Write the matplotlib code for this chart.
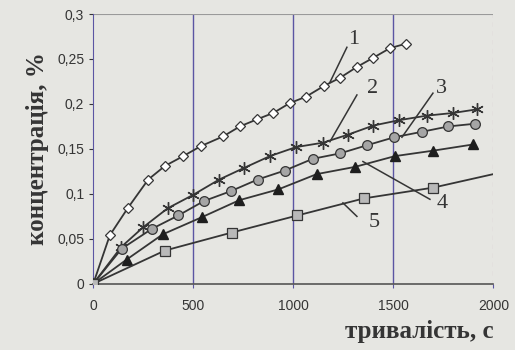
import matplotlib.pyplot as plt

# dissolution curves: time, s  /  concentration, %
t1 = [0, 83, 172, 275, 358, 450, 537, 650, 733, 820, 900, 983, 1063, 1153, 1233, 1317, 1397, 1483, 1563]
c1 = [0, 0.054, 0.084, 0.116, 0.131, 0.142, 0.153, 0.164, 0.175, 0.183, 0.190, 0.201, 0.208, 0.220, 0.229, 0.241, 0.251, 0.262, 0.267]

t2 = [0, 140, 250, 372, 500, 630, 755, 883, 1013, 1150, 1275, 1400, 1530, 1667, 1800, 1917]
c2 = [0, 0.041, 0.063, 0.084, 0.099, 0.116, 0.129, 0.142, 0.152, 0.157, 0.166, 0.176, 0.182, 0.187, 0.190, 0.194]

t3 = [0, 142, 292, 425, 553, 687, 822, 958, 1097, 1233, 1367, 1505, 1642, 1775, 1908]
c3 = [0, 0.039, 0.061, 0.076, 0.092, 0.103, 0.116, 0.126, 0.139, 0.145, 0.154, 0.163, 0.169, 0.175, 0.178]

t4 = [0, 167, 347, 542, 730, 925, 1117, 1308, 1508, 1697, 1900]
c4 = [0, 0.027, 0.055, 0.074, 0.093, 0.105, 0.122, 0.130, 0.142, 0.148, 0.155]

t5 = [0, 358, 692, 1020, 1353, 1700]
c5 = [0, 0.037, 0.057, 0.076, 0.095, 0.107]
# trend line of curve 5 runs on to the edge of the plot
t5_line = t5 + [2000]
c5_line = c5 + [0.122]

curve_labels = ['1', '2', '3', '4', '5']
label_xy = [(1300, 0.272), (1395, 0.217), (1740, 0.217), (1745, 0.089), (1405, 0.068)]
leader_from = [(1268, 0.263), (1318, 0.210), (1698, 0.212), (1683, 0.094), (1318, 0.075)]
leader_to = [(1183, 0.224), (1183, 0.158), (1543, 0.163), (1348, 0.136), (1248, 0.090)]

xticks = [0, 500, 1000, 1500, 2000]
yticks = [0, 0.05, 0.1, 0.15, 0.2, 0.25, 0.3]
ytick_labels = ['0', '0,05', '0,1', '0,15', '0,2', '0,25', '0,3']

paper = '#e6e6e2'
ink = '#353535'
grid_col = '#5b55a3'

fig = plt.figure(figsize=(5.15, 3.5), dpi=100, facecolor=paper)
ax = fig.add_axes([0.181, 0.189, 0.777, 0.771], facecolor=paper)

for x in [500, 1000, 1500]:
    ax.axvline(x, color=grid_col, lw=1.0, zorder=1)
ax.axvline(2000, color='#b08aa8', lw=0.8, ls=(0, (4, 4)), zorder=1)
ax.axhline(0.3, color='#9a9a9a', lw=0.8, zorder=1)

line_kw = dict(color=ink, lw=1.3, zorder=3)
ax.plot(t1, c1, marker='D', ms=5.5, mfc='white', mec=ink, mew=0.9, **line_kw)
ax.plot(t2, c2, marker=(6, 2, 0), ms=9, mec=ink, mew=1.0, **line_kw)
ax.plot(t3, c3, marker='o', ms=7, mfc='#a5a5a5', mec=ink, mew=0.9, **line_kw)
ax.plot(t4, c4, marker='^', ms=7, mfc='#1e1e1e', mec='#1e1e1e', **line_kw)
ax.plot(t5_line, c5_line, **line_kw)
ax.plot(t5, c5, ls='none', marker='s', ms=7, mfc='#b9b9b9', mec=ink, mew=0.9, zorder=4)

for lab, (tx, ty), p0, p1 in zip(curve_labels, label_xy, leader_from, leader_to):
    ax.plot([p0[0], p1[0]], [p0[1], p1[1]], color=ink, lw=1.1, zorder=5)
    ax.text(tx, ty, lab, fontsize=16, family='Liberation Serif', color=ink,
            ha='center', va='center', zorder=5)

ax.set_xlim(0, 2000)
ax.set_ylim(0, 0.3)
ax.set_xticks(xticks)
ax.set_yticks(yticks)
ax.set_yticklabels(ytick_labels)
ax.tick_params(labelsize=10, colors=ink, length=3, width=0.8)
for t in ax.get_xticklabels() + ax.get_yticklabels():
    t.set_family('Liberation Sans')
ax.tick_params(axis='x', pad=8, colors=grid_col, labelcolor=ink)

for s in ['top', 'right']:
    ax.spines[s].set_visible(False)
ax.spines['left'].set_color(grid_col)
ax.spines['bottom'].set_color('#555555')
ax.spines['bottom'].set_linewidth(1.2)

ax.set_xlabel('тривалість, с', family='Liberation Serif', fontweight='bold',
              fontsize=18, color=ink, loc='right', labelpad=5)
ax.set_ylabel('концентрація, %', family='Liberation Serif', fontweight='bold',
              fontsize=18, color=ink, labelpad=6)

fig.savefig('out.png', dpi=100, facecolor=paper)
